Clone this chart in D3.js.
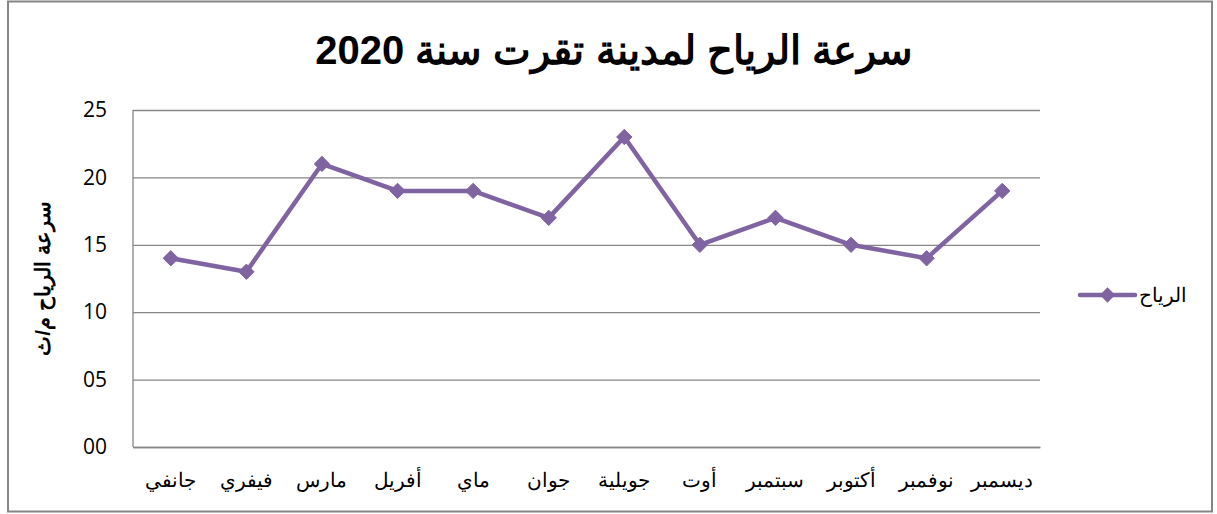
<!DOCTYPE html>
<html>
<head>
<meta charset="utf-8">
<script src="https://cdn.jsdelivr.net/npm/d3@7"></script>
<style>
  body { margin: 0; background: #fff; }
  svg { display: block; }
</style>
</head>
<body>
<svg width="1217" height="514"></svg>
<script>
const months = ["جانفي", "فيفري", "مارس", "أفريل", "ماي", "جوان", "جويلية", "أوت", "سبتمبر", "أكتوبر", "نوفمبر", "ديسمبر"];
const windSpeed = [14, 13, 21, 19, 19, 17, 23, 15, 17, 15, 14, 19];
const yTicks = [0, 5, 10, 15, 20, 25];
const seriesName = "الرياح";
const chartTitle = "سرعة الرياح لمدينة تقرت سنة 2020";
const yTitle = "سرعة الرياح م/ث";

const svg = d3.select("svg");
const width = +svg.attr("width");
const height = +svg.attr("height");
const purple = "#8064a2";

const margin = { top: 110, right: 177, bottom: 67, left: 133 };
const innerWidth = width - margin.left - margin.right;
const innerHeight = height - margin.top - margin.bottom;

// chart border
svg.append("rect")
	.attr("x", 8).attr("y", 1.5)
	.attr("width", 1204).attr("height", 510)
	.attr("fill", "none")
	.attr("stroke", "#868686")
	.attr("stroke-width", 2);

const xScale = d3.scaleBand()
	.domain(months)
	.range([0, innerWidth]);

const yScale = d3.scaleLinear()
	.domain([0, 25])
	.range([innerHeight, 0]);

const g = svg.append("g")
	.attr("transform", `translate(${margin.left}, ${margin.top})`);

// gridlines + y labels
const yAxis = d3.axisLeft(yScale)
	.tickValues(yTicks)
	.tickSize(-innerWidth)
	.tickPadding(26)
	.tickFormat(d3.format("02d"));

const yAxisG = g.append("g").call(yAxis);
yAxisG.select(".domain").remove();
yAxisG.selectAll("line").attr("stroke", "#868686").attr("stroke-width", 1.3);
yAxisG.selectAll("text")
	.attr("fill", "#000")
	.style("font-family", "'Open Sans', 'Liberation Sans', sans-serif")
	.style("font-size", "21px");

// left axis line
g.append("line")
	.attr("x1", 0).attr("x2", 0)
	.attr("y1", 0).attr("y2", innerHeight)
	.attr("stroke", "#868686").attr("stroke-width", 1.3);

// x labels
const xAxis = d3.axisBottom(xScale).tickSize(0).tickPadding(26);
const xAxisG = g.append("g")
	.attr("transform", `translate(0, ${innerHeight})`)
	.call(xAxis);
xAxisG.select(".domain").attr("stroke", "#868686").attr("stroke-width", 1.3);
xAxisG.selectAll("text")
	.attr("fill", "#000")
	.style("font-family", "'Liberation Serif', 'Times New Roman', serif")
	.style("font-size", "20px");

// line
const xPos = (d, i) => xScale(months[i]) + xScale.bandwidth() / 2;
const line = d3.line()
	.x(xPos)
	.y(d => yScale(d));

g.append("path")
	.datum(windSpeed)
	.attr("fill", "none")
	.attr("stroke", purple)
	.attr("stroke-width", 4.5)
	.attr("stroke-linejoin", "round")
	.attr("d", line);

const diamond = d3.symbol().type(d3.symbolDiamond2).size(150);
g.selectAll(".marker").data(windSpeed)
	.enter().append("path")
		.attr("class", "marker")
		.attr("transform", (d, i) => `translate(${xPos(d, i)}, ${yScale(d)})`)
		.attr("d", diamond)
		.attr("fill", purple)
		.attr("stroke", purple)
		.attr("stroke-width", 1);

// title
svg.append("text")
	.attr("x", 614)
	.attr("y", 64)
	.attr("text-anchor", "middle")
	.style("font-family", "'Liberation Sans', Arial, sans-serif")
	.style("font-weight", "bold")
	.style("font-size", "40px")
	.text(chartTitle);

// y title
svg.append("text")
	.attr("transform", `translate(50, ${margin.top + innerHeight / 2}) rotate(-90)`)
	.attr("text-anchor", "middle")
	.style("font-family", "'Liberation Sans', Arial, sans-serif")
	.style("font-weight", "bold")
	.style("font-size", "21px")
	.text(yTitle);

// legend
const legend = svg.append("g").attr("transform", "translate(1080, 295)");
legend.append("line")
	.attr("x1", 0).attr("x2", 55)
	.attr("stroke", purple).attr("stroke-width", 4.5)
	.attr("stroke-linecap", "round");
legend.append("path")
	.attr("transform", "translate(27.5, 0)")
	.attr("d", diamond)
	.attr("fill", purple);
legend.append("text")
	.attr("x", 59)
	.attr("y", 7)
	.style("font-family", "'Liberation Serif', 'Times New Roman', serif")
	.style("font-size", "20px")
	.text(seriesName);
</script>
</body>
</html>
